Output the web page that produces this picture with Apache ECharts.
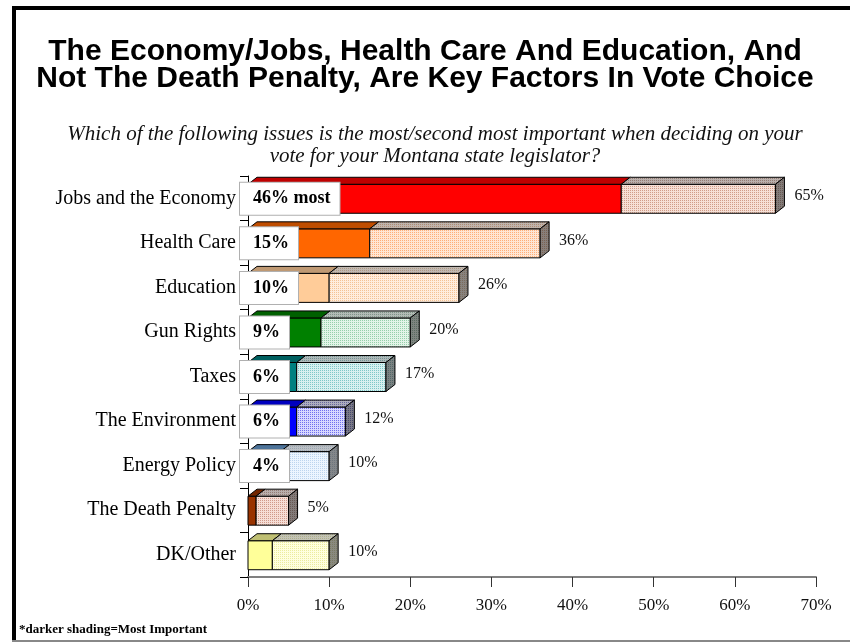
<!DOCTYPE html>
<html>
<head>
<meta charset="utf-8">
<script src="https://cdn.jsdelivr.net/npm/echarts@6/dist/echarts.min.js"></script>
<style>
  html, body { margin: 0; padding: 0; background: #fff; }
  #chart { width: 850px; height: 643px; }
</style>
</head>
<body>
<div id="chart"></div>
<script>
// data
const categories = ['Jobs and the Economy', 'Health Care', 'Education', 'Gun Rights', 'Taxes',
  'The Environment', 'Energy Policy', 'The Death Penalty', 'DK/Other']
const mostValues = [46, 15, 10, 9, 6, 6, 4, 1, 3]
const totalValues = [65, 36, 26, 20, 17, 12, 10, 5, 10]
const boxLabels = ['46% most', '15%', '10%', '9%', '6%', '6%', '4%', '', '']
const xTicks = [0, 10, 20, 30, 40, 50, 60, 70]

// colours: dark = most important, light = pattern for second most
const darkColors = ['#FF0000', '#FF6600', '#FFCC99', '#008000', '#008080', '#0000FF', '#6699CC', '#993300', '#FFFF99']
const lightBase = ['#F6E0D6', '#FFE6D4', '#FFEDDD', '#E2F4E8', '#D8F0F0', '#D8D8FF', '#ECF5FF', '#F6DED6', '#FFFFDE']
const lightDots = ['#D09C88', '#FFAE78', '#F4C294', '#96CFAA', '#7EC8C8', '#7070EE', '#BCD4EE', '#D09A8A', '#ECEC9E']

function toRgb(hex) {
  const n = parseInt(hex.slice(1), 16)
  return [(n >> 16) & 255, (n >> 8) & 255, n & 255]
}

function shade(hex, k) {
  const [r, g, b] = toRgb(hex)
  return 'rgb(' + Math.round(r * k) + ',' + Math.round(g * k) + ',' + Math.round(b * k) + ')'
}

// greyer, darker version for the top and side faces of the light segment
function dull(hex, k) {
  const [r, g, b] = toRgb(hex)
  const m = (r + g + b) / 3
  const f = v => Math.round((v * 0.55 + m * 0.45) * k)
  return 'rgb(' + f(r) + ',' + f(g) + ',' + f(b) + ')'
}

function makePattern(base, dot) {
  const cv = document.createElement('canvas')
  cv.width = 2
  cv.height = 2
  const ctx = cv.getContext('2d')
  ctx.fillStyle = base
  ctx.fillRect(0, 0, 2, 2)
  ctx.fillStyle = dot
  ctx.fillRect(0, 0, 1, 1)
  return { image: cv, repeat: 'repeat' }
}

const frontPatterns = lightBase.map((c, i) => makePattern(c, lightDots[i]))
const topPatterns = lightBase.map((c, i) => makePattern(dull(c, 0.78), dull(lightDots[i], 0.78)))
const sidePatterns = lightBase.map((c, i) => makePattern(dull(c, 0.55), dull(lightDots[i], 0.55)))

const seriesData = categories.map((c, i) => [i, mostValues[i], totalValues[i]])

function renderBar(params, api) {
  const idx = api.value(0)
  const most = api.value(1)
  const total = api.value(2)
  const p0 = api.coord([0, idx])
  const p1 = api.coord([most, idx])
  const p2 = api.coord([total, idx])
  const h = 29, dx = 9, dy = 7
  const c = p0[1] + 0.5
  const t = c - h / 2, b = c + h / 2
  const x0 = p0[0], x1 = p1[0], x2 = p2[0]
  const line = { stroke: '#000', lineWidth: 1 }
  const children = [
    // most important: front + top
    { type: 'rect', shape: { x: x0, y: t, width: x1 - x0, height: h },
      style: Object.assign({ fill: darkColors[idx] }, line) },
    { type: 'polygon', shape: { points: [[x0, t], [x1, t], [x1 + dx, t - dy], [x0 + dx, t - dy]] },
      style: Object.assign({ fill: shade(darkColors[idx], 0.75) }, line) },
    // second most: front + top + side
    { type: 'rect', shape: { x: x1, y: t, width: x2 - x1, height: h },
      style: Object.assign({ fill: frontPatterns[idx] }, line) },
    { type: 'polygon', shape: { points: [[x1, t], [x2, t], [x2 + dx, t - dy], [x1 + dx, t - dy]] },
      style: Object.assign({ fill: topPatterns[idx] }, line) },
    { type: 'polygon', shape: { points: [[x2, t], [x2 + dx, t - dy], [x2 + dx, b - dy], [x2, b]] },
      style: Object.assign({ fill: sidePatterns[idx] }, line) },
    // total value
    { type: 'text', style: { text: total + '%', x: x2 + dx + 10, y: c - 3, verticalAlign: 'middle',
      font: '16px "Liberation Serif"', fill: '#111' } }
  ]
  if (boxLabels[idx]) {
    children.push({ type: 'text', style: {
      text: boxLabels[idx], x: x0 - 8, y: c, verticalAlign: 'middle',
      font: 'bold 18px "Liberation Serif"', fill: '#000',
      backgroundColor: '#fff', padding: [7, 9, 7, 13],
      borderColor: '#b0b0b0', borderWidth: 1, borderType: 'dotted'
    } })
  }
  return { type: 'group', children }
}

const chart = echarts.init(document.getElementById('chart'))

const option = {
  animation: false,
  backgroundColor: '#fff',
  title: [
    {
      text: 'The Economy/Jobs, Health Care And Education, And\nNot The Death Penalty, Are Key Factors In Vote Choice',
      left: 'center',
      top: 33,
      textStyle: { fontFamily: 'Liberation Sans', fontWeight: 'bold', fontSize: 30, lineHeight: 27, color: '#000' }
    },
    {
      text: 'Which of the following issues is the most/second most important when deciding on your\nvote for your Montana state legislator?',
      left: 430,
      textAlign: 'center',
      top: 118,
      textStyle: { fontFamily: 'Liberation Serif', fontStyle: 'italic', fontWeight: 'normal', fontSize: 21, lineHeight: 22, color: '#111' }
    }
  ],
  grid: { left: 248, right: 34, top: 176, bottom: 66 },
  xAxis: {
    type: 'value',
    min: 0,
    max: 70,
    interval: 10,
    axisLine: { show: true, lineStyle: { color: '#808080', width: 2 } },
    axisTick: { show: true, length: 10, lineStyle: { color: '#333' } },
    splitLine: { show: false },
    axisLabel: {
      margin: 20,
      color: '#111',
      fontFamily: 'Liberation Serif',
      fontSize: 17,
      formatter: v => (xTicks.indexOf(v) >= 0 ? v + '%' : '')
    }
  },
  yAxis: {
    type: 'category',
    data: categories,
    inverse: true,
    axisLine: { show: true, lineStyle: { color: '#000', width: 1 } },
    axisTick: { show: true, length: 8, lineStyle: { color: '#000' } },
    axisLabel: { margin: 12, color: '#000', fontFamily: 'Liberation Serif', fontSize: 20 }
  },
  series: [
    {
      type: 'custom',
      renderItem: renderBar,
      encode: { x: [1, 2], y: 0 },
      data: seriesData
    }
  ],
  graphic: [
    { type: 'rect', shape: { x: 12, y: 6, width: 4, height: 636 }, style: { fill: '#000' } },
    { type: 'rect', shape: { x: 12, y: 6, width: 838, height: 4 }, style: { fill: '#000' } },
    { type: 'rect', shape: { x: 12, y: 640, width: 838, height: 2 }, style: { fill: '#888' } },
    { type: 'text', left: 19, top: 623,
      style: { text: '*darker shading=Most Important', font: 'bold 13px "Liberation Serif"', fill: '#000' } }
  ]
}

chart.setOption(option)
window.onresize = () => {
  chart.resize()
}
</script>
</body>
</html>
